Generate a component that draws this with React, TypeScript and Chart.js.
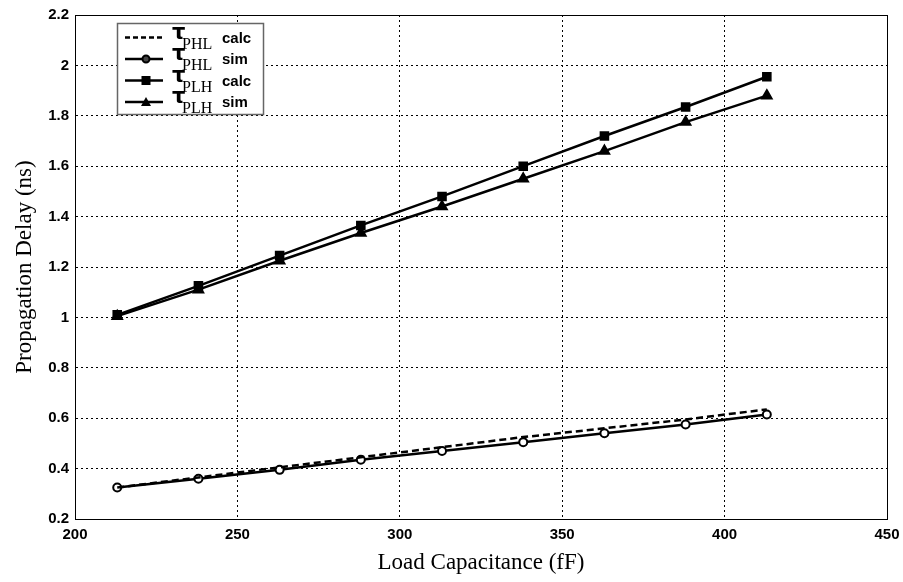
import React, { useEffect, useRef } from "react";
import { Chart, registerables } from "chart.js";

Chart.register(...registerables);

const loadCap = [213, 238, 263, 288, 313, 338, 363, 388, 413];
const phlCalc = [0.325, 0.365, 0.405, 0.445, 0.485, 0.525, 0.56, 0.595, 0.635];
const phlSim = [0.325, 0.36, 0.395, 0.435, 0.47, 0.505, 0.54, 0.575, 0.615];
const plhCalc = [1.01, 1.125, 1.245, 1.365, 1.48, 1.6, 1.72, 1.835, 1.955];
const plhSim = [1.005, 1.11, 1.225, 1.335, 1.44, 1.55, 1.66, 1.775, 1.88];

const legendSubs = ["PHL", "PHL", "PLH", "PLH"];
const legendSuffix = ["calc", "sim", "calc", "sim"];

const toPts = (ys: number[]) => loadCap.map((x, i) => ({ x, y: ys[i] }));

const framePlugin = {
  id: "frame",
  afterDraw(chart: any) {
    const { ctx, chartArea: a } = chart;
    ctx.save();
    ctx.strokeStyle = "#000";
    ctx.lineWidth = 1;
    ctx.strokeRect(a.left + 0.5, a.top + 0.5, a.right - a.left, a.bottom - a.top);

    // legend
    const bx = a.left + 42;
    const by = a.top + 8;
    const bw = 146;
    const bh = 91;
    ctx.fillStyle = "#fff";
    ctx.fillRect(bx, by, bw, bh);
    ctx.strokeStyle = "#666";
    ctx.lineWidth = 1.5;
    ctx.strokeRect(bx + 0.5, by + 0.5, bw, bh);

    const ds = chart.data.datasets;
    for (let i = 0; i < 4; i++) {
      const yy = by + 14.5 + i * 21.5;
      const x0 = bx + 8;
      const x1 = bx + 46;
      ctx.strokeStyle = "#000";
      ctx.lineWidth = 2.5;
      ctx.setLineDash(i === 0 ? [5, 3] : []);
      ctx.beginPath();
      ctx.moveTo(x0, yy);
      ctx.lineTo(x1, yy);
      ctx.stroke();
      ctx.setLineDash([]);
      const mx = (x0 + x1) / 2 + 2;
      const style = ds[i].pointStyle;
      if (i > 0) {
        ctx.fillStyle = "#000";
        ctx.lineWidth = 2;
        ctx.beginPath();
        if (style === "circle") {
          ctx.arc(mx, yy, 3.5, 0, Math.PI * 2);
          ctx.fillStyle = "#444";
          ctx.fill();
          ctx.stroke();
        } else if (style === "rect") {
          ctx.fillRect(mx - 4.5, yy - 4.5, 9, 9);
        } else {
          ctx.moveTo(mx, yy - 5);
          ctx.lineTo(mx + 5, yy + 4);
          ctx.lineTo(mx - 5, yy + 4);
          ctx.closePath();
          ctx.fill();
        }
      }
      ctx.fillStyle = "#000";
      ctx.textBaseline = "alphabetic";
      ctx.textAlign = "left";
      ctx.font = "bold 21px 'DejaVu Sans', sans-serif";
      ctx.fillText("τ", bx + 55, yy + 1);
      ctx.font = "16px 'Liberation Serif', serif";
      ctx.fillText(legendSubs[i], bx + 65, yy + 11);
      ctx.font = "bold 15px 'Liberation Sans', Arial, sans-serif";
      ctx.textBaseline = "middle";
      ctx.fillText(legendSuffix[i], bx + 105, yy + 1);
    }
    ctx.restore();
  },
};

export default function App() {
  const ref = useRef<HTMLCanvasElement>(null);
  useEffect(() => {
    if (!ref.current) return;
    const chart = new Chart(ref.current, {
      type: "line",
      data: {
        datasets: [
          {
            label: "τPHL calc",
            data: toPts(phlCalc),
            borderColor: "#000",
            borderWidth: 2.5,
            borderDash: [7, 4],
            pointRadius: 0,
            pointStyle: "line",
          },
          {
            label: "τPHL sim",
            data: toPts(phlSim),
            borderColor: "#000",
            borderWidth: 2.5,
            pointStyle: "circle",
            pointRadius: 4,
            pointBorderWidth: 2,
            pointBackgroundColor: "#fff",
            pointBorderColor: "#000",
          },
          {
            label: "τPLH calc",
            data: toPts(plhCalc),
            borderColor: "#000",
            borderWidth: 2.5,
            pointStyle: "rect",
            pointRadius: 5,
            pointBackgroundColor: "#000",
            pointBorderColor: "#000",
          },
          {
            label: "τPLH sim",
            data: toPts(plhSim),
            borderColor: "#000",
            borderWidth: 2.5,
            pointStyle: "triangle",
            pointRadius: 5,
            pointBackgroundColor: "#000",
            pointBorderColor: "#000",
          },
        ],
      },
      options: {
        animation: false,
        responsive: false,
        maintainAspectRatio: false,
        layout: { padding: { top: 14, right: 16, left: 0, bottom: 0 } },
        plugins: { legend: { display: false }, tooltip: { enabled: false } },
        scales: {
          x: {
            type: "linear",
            min: 200,
            max: 450,
            afterFit: (s: any) => {
              s.height = 63;
              s.paddingLeft = 0;
              s.paddingRight = 0;
            },
            ticks: {
              stepSize: 50,
              color: "#000",
              padding: 7,
              font: { family: "'Liberation Sans', Arial, sans-serif", size: 15, weight: "bold" },
            },
            grid: {
              color: "#000",
              lineWidth: 1,
              tickLength: 0,
              drawTicks: false,
            },
            border: { color: "#000", dash: [2, 3] },
            title: {
              display: true,
              text: "Load Capacitance (fF)",
              color: "#000",
              padding: { top: 4, bottom: 5 },
              font: { family: "'Liberation Serif', 'Times New Roman', serif", size: 23 },
            },
          },
          y: {
            type: "linear",
            min: 0.2,
            max: 2.2,
            afterFit: (s: any) => {
              s.width = 75;
            },
            ticks: {
              stepSize: 0.2,
              color: "#000",
              padding: 6,
              callback: (v: any) => String(Number(Number(v).toFixed(1))),
              font: { family: "'Liberation Sans', Arial, sans-serif", size: 15, weight: "bold" },
            },
            grid: {
              color: "#000",
              lineWidth: 1,
              drawTicks: false,
            },
            border: { color: "#000", dash: [2, 3] },
            title: {
              display: true,
              text: "Propagation Delay (ns)",
              color: "#000",
              padding: { top: 11, bottom: 4 },
              font: { family: "'Liberation Serif', 'Times New Roman', serif", size: 23 },
            },
          },
        },
      },
      plugins: [framePlugin],
    } as any);
    return () => chart.destroy();
  }, []);
  return (
    <div style={{ position: "absolute", left: 0, top: 0, width: 903, height: 582, background: "#fff" }}>
      <canvas ref={ref} width={903} height={582} style={{ display: "block" }} />
    </div>
  );
}
